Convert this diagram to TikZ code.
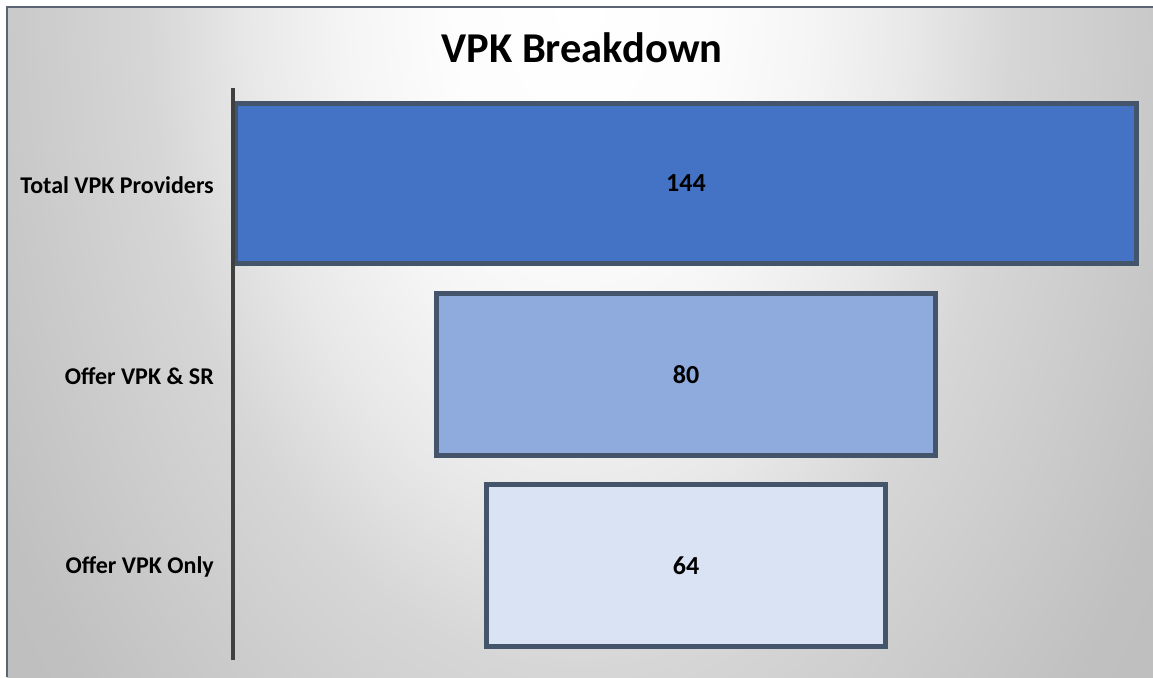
\documentclass[tikz,border=0pt]{standalone}
\usepackage{fontspec}
\setmainfont{Carlito}
\definecolor{barline}{HTML}{44546A}
\definecolor{barA}{HTML}{4472C4}
\definecolor{barB}{HTML}{8FAADC}
\definecolor{barC}{HTML}{DAE3F3}
\definecolor{axisgray}{HTML}{404040}
\definecolor{frame}{HTML}{5A6473}
% soft elliptical backdrop of the chart area (25bp = rim of the shaded path)
\pgfdeclareradialshading{chartbg}{\pgfpoint{0bp}{0bp}}{%
  color(0bp)=(white);
  color(4.2bp)=(white!99!black);
  color(7.3bp)=(white!96!black);
  color(10.4bp)=(white!91!black);
  color(13.5bp)=(white!84!black);
  color(18.1bp)=(white!78.5!black);
  color(20.8bp)=(white!75.3!black);
  color(25bp)=(white!74!black);
  color(50bp)=(white!74!black)}
\begin{document}
\begin{tikzpicture}[x=1pt,y=-1pt,
  bar/.style={draw=barline, line width=5pt, inner sep=0pt, outer sep=0pt,
    font=\bfseries\fontsize{26}{30}\selectfont, text=black},
  cat/.style={anchor=east, inner sep=0pt, font=\bfseries\fontsize{24}{28}\selectfont},
  title/.style={inner sep=0pt, font=\bfseries\fontsize{42.5}{48}\selectfont}]
  % page and chart area
  \useasboundingbox (0,0) rectangle (1153,677);
  \fill[white] (0,0) rectangle (1153,677);
  \begin{scope}
    \clip (7,7) rectangle (1153,677);
    \shade[shading=chartbg] (580,0) ellipse [x radius=800pt, y radius=1240pt];
  \end{scope}
  \draw[frame, line width=1.2pt] (7,677) -- (7,7) -- (1153,7);
  % title
  \node[title] (ttl) at (582,48) {VPK Breakdown};
  % bars
  \node[bar, fill=barA, minimum width=901pt, minimum height=160pt] (b1) at (686,183.5) {144};
  \node[bar, fill=barB, minimum width=499pt, minimum height=162pt] (b2) at (686,374.5) {80};
  \node[bar, fill=barC, minimum width=399pt, minimum height=162pt] (b3) at (686,565.5) {64};
  % category labels
  \node[cat] (l1) at (214,185) {Total VPK Providers};
  \node[cat] (l2) at (214,376) {Offer VPK \& SR};
  \node[cat] (l3) at (214,567) {Offer VPK Only};
  % axis
  \coordinate (axtop) at (233,88);
  \coordinate (axbot) at (233,660);
  \draw[axisgray, line width=4pt] (axtop) -- (axbot);
\end{tikzpicture}
\end{document}
